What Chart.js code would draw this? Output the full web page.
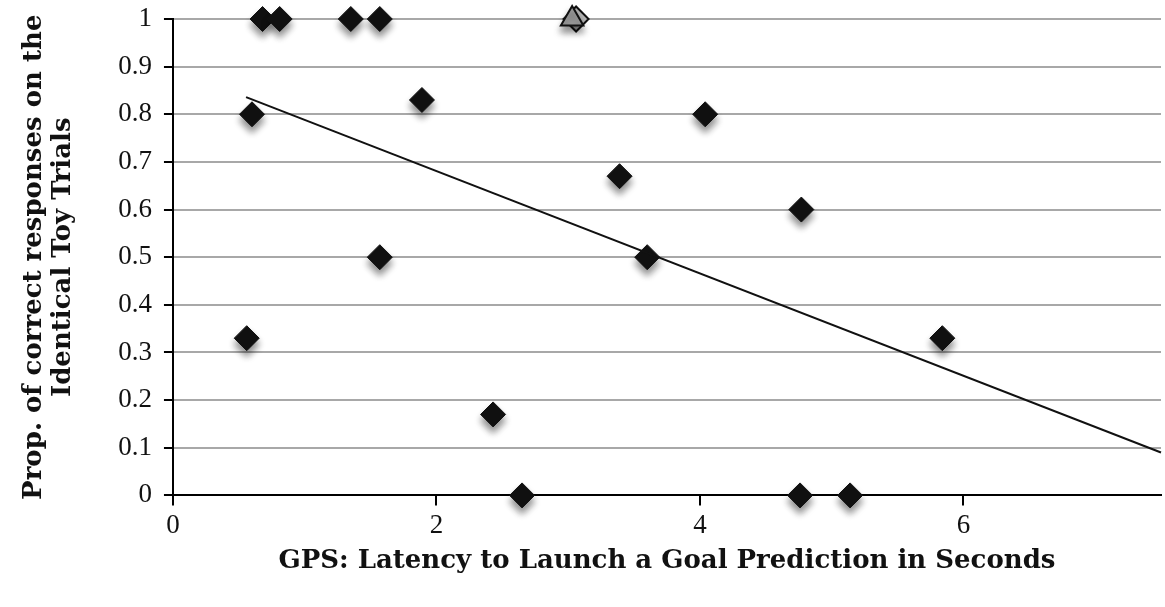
<!DOCTYPE html>
<html>
<head>
<meta charset="utf-8">
<script src="https://cdn.jsdelivr.net/npm/chart.js@4/dist/chart.umd.min.js"></script>
<style>
  html, body { margin: 0; padding: 0; background: #fff; }
  #wrap { width: 1165px; height: 607px; }
</style>
</head>
<body>
<div id="wrap"><canvas id="chart"></canvas></div>
<script>
// children's data: latency (s) vs proportion correct
const latency = [0.56, 0.60, 0.68, 0.81, 1.35, 1.57, 1.57, 1.89, 2.43, 2.65, 3.39, 3.60, 4.04, 4.77, 4.76, 5.14, 5.84];
const propCorrect = [0.33, 0.80, 1, 1, 1, 1, 0.50, 0.83, 0.17, 0, 0.67, 0.50, 0.80, 0.60, 0, 0, 0.33];

// grey markers (overlapping at the top)
const greyTriX = [3.03];
const greyTriY = [1];
const greyDiaX = [3.06];
const greyDiaY = [1];

// trend line end points
const trendX = [0.555, 7.5];
const trendY = [0.836, 0.09];

const yTicks = [0, 0.1, 0.2, 0.3, 0.4, 0.5, 0.6, 0.7, 0.8, 0.9, 1];
const xTicks = [0, 2, 4, 6];

const pts = (xs, ys) => xs.map((x, i) => ({ x: x, y: ys[i] }));

const shadowPlugin = {
  id: "shadow",
  beforeDatasetDraw(chart, args) {
    const ds = chart.data.datasets[args.index];
    if (ds.shadow) {
      const c = chart.ctx;
      c.save();
      c.shadowColor = "rgba(0,0,0,0.45)";
      c.shadowBlur = 7;
      c.shadowOffsetY = 6;
    }
  },
  afterDatasetDraw(chart, args) {
    const ds = chart.data.datasets[args.index];
    if (ds.shadow) chart.ctx.restore();
  }
};

const serif = "'Liberation Serif', 'DejaVu Serif', serif";
const titleFont = "'DejaVu Serif', serif";

new Chart(document.getElementById("chart"), {
  type: "scatter",
  data: {
    datasets: [
      {
        type: "line",
        data: pts(trendX, trendY),
        borderColor: "#111",
        borderWidth: 2,
        pointRadius: 0,
        fill: false,
        clip: false
      },
      {
        data: pts(latency, propCorrect),
        pointStyle: "rectRot",
        pointRadius: 12.5,
        backgroundColor: "#111",
        borderColor: "#111",
        borderWidth: 1,
        shadow: true,
        clip: false
      },
      {
        data: pts(greyTriX, greyTriY),
        pointStyle: "triangle",
        pointRadius: 13,
        backgroundColor: "#a0a0a0",
        borderColor: "#111",
        borderWidth: 2,
        shadow: true,
        clip: false
      },
      {
        data: pts(greyDiaX, greyDiaY),
        pointStyle: "rectRot",
        pointRadius: 12.5,
        backgroundColor: "#b4b4b4",
        borderColor: "#111",
        borderWidth: 2,
        clip: false
      }
    ]
  },
  options: {
    responsive: true,
    maintainAspectRatio: false,
    animation: false,
    layout: { autoPadding: false, padding: { top: 19, right: 4, left: 16, bottom: 26 } },
    plugins: {
      legend: { display: false },
      tooltip: { enabled: false }
    },
    scales: {
      x: {
        type: "linear",
        min: 0,
        max: 7.5,
        afterBuildTicks: (axis) => { axis.ticks = xTicks.map(v => ({ value: v })); },
        afterFit: (axis) => { axis.paddingRight = 0; axis.paddingLeft = 0; },
        border: { color: "#000", width: 2 },
        grid: { drawOnChartArea: false, drawTicks: true, tickLength: 10, color: "#000", lineWidth: 2 },
        ticks: { color: "#111", font: { family: serif, size: 27 }, padding: 4 },
        title: {
          display: true,
          text: "GPS: Latency to Launch a Goal Prediction in Seconds",
          color: "#111",
          font: { family: titleFont, size: 26, weight: "bold" },
          padding: { top: 0 }
        }
      },
      y: {
        min: 0,
        max: 1,
        afterBuildTicks: (axis) => { axis.ticks = yTicks.map(v => ({ value: v })); },
        afterFit: (axis) => { axis.paddingTop = 0; },
        border: { color: "#000", width: 2 },
        grid: { color: "#a8a8a8", lineWidth: 2, tickColor: "#000", tickLength: 9 },
        ticks: {
          color: "#111",
          font: { family: serif, size: 27 },
          padding: 12,
          callback: (v) => String(Math.round(v * 10) / 10)
        },
        title: {
          display: true,
          text: ["Prop. of correct responses on the", "Identical Toy Trials"],
          color: "#111",
          font: { family: titleFont, size: 26, weight: "bold", lineHeight: 1.1 },
          padding: { bottom: 29 }
        }
      }
    }
  },
  plugins: [shadowPlugin]
});
</script>
</body>
</html>
